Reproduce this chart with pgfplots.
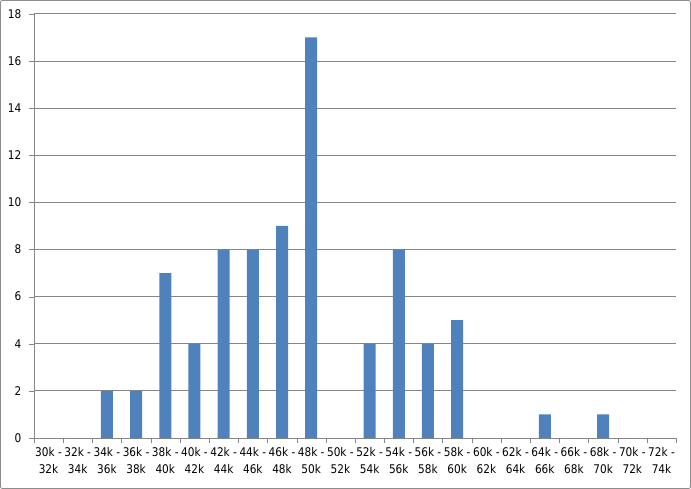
\documentclass[border=0pt]{standalone}
\usepackage{fontspec}
\setmainfont{DejaVu Sans}[FakeStretch=0.88]
\usepackage{pgfplots}
\pgfplotsset{compat=1.18}

\definecolor{barblue}{HTML}{4F81BD}
\definecolor{gridgray}{HTML}{868686}
\definecolor{framegray}{HTML}{8C8C8C}

\begin{document}
\begin{tikzpicture}[x=1bp,y=1bp]
% chart frame
\draw[framegray, line width=0.8bp, rounded corners=2bp] (0.5,0.5) rectangle (690.5,488.5);
\begin{axis}[
    at={(34bp,51bp)}, anchor=south west,
    scale only axis,
    width=642bp, height=424bp,
    ybar, bar width=12bp,
    xmin=-0.5, xmax=21.5,
    ymin=0, ymax=18,
    ytick={0,2,...,18},
    xtick={0,...,21},
    xticklabels={30k -\\32k, 32k -\\34k, 34k -\\36k, 36k -\\38k, 38k -\\40k, 40k -\\42k,
                 42k -\\44k, 44k -\\46k, 46k -\\48k, 48k -\\50k, 50k -\\52k, 52k -\\54k,
                 54k -\\56k, 56k -\\58k, 58k -\\60k, 60k -\\62k, 62k -\\64k, 64k -\\66k,
                 66k -\\68k, 68k -\\70k, 70k -\\72k, 72k -\\74k},
    x tick label style={align=center, font=\fontsize{12}{16.5}\selectfont, yshift=-1bp},
    y tick label style={font=\fontsize{12}{14}\selectfont, xshift=-4bp},
    /pgf/number format/assume math mode=true,
    major x tick style={draw=none},
    minor xtick={-0.5,0.5,...,21.5},
    minor x tick style={draw=gridgray},
    minor tick length=5bp,
    major tick length=5bp,
    tick align=outside,
    y tick style={draw=gridgray},
    axis x line*=bottom, axis y line*=left,
    axis line style={draw=gridgray, -},
    ymajorgrids, major grid style={draw=gridgray, line width=0.8bp},
]
\addplot[fill=barblue, draw=none] coordinates {
    (0,0) (1,0) (2,2) (3,2) (4,7) (5,4) (6,8) (7,8) (8,9) (9,17) (10,0)
    (11,4) (12,8) (13,4) (14,5) (15,0) (16,0) (17,1) (18,0) (19,1) (20,0) (21,0)
};
\end{axis}
\end{tikzpicture}
\end{document}
